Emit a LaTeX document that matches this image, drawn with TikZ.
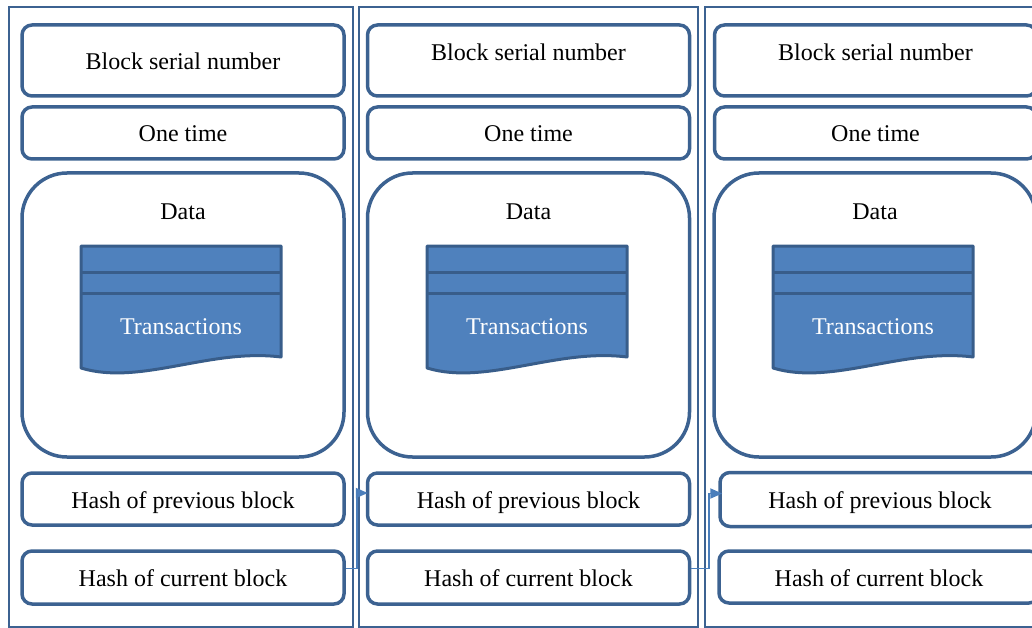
\documentclass[tikz,border=0pt]{standalone}
\usepackage{fontspec}
\setmainfont{Liberation Serif}
\usetikzlibrary{arrows.meta}
\definecolor{edge}{RGB}{60,98,145}
\definecolor{txf}{RGB}{79,129,189}
\definecolor{txd}{RGB}{56,93,138}
\definecolor{arrc}{RGB}{74,126,187}
\begin{document}
\begin{tikzpicture}[x=1pt,y=-1pt,font=\fontsize{24}{28}\selectfont,
  box/.style={draw=edge,line width=3.5pt,rounded corners=10pt,minimum width=322pt,inner sep=0pt,text height=20pt,text depth=2pt},
  framebox/.style={draw=edge,line width=2.5pt,inner sep=0pt},
  databox/.style={draw=edge,line width=3.5pt,rounded corners=45pt,minimum width=322pt,minimum height=284pt,inner sep=0pt},
  tx/.style={fill=txf,draw=txd,line width=3pt,line join=round},
  txline/.style={draw=txd,line width=3pt},
  txtext/.style={text=white},
  toplabel/.style={anchor=center},
  link/.style={draw=arrc,line width=1.8pt,-{Triangle[length=12pt,width=10pt]}}]
\useasboundingbox (0,0) rectangle (1032,628);
\clip (0,0) rectangle (1032,628);
% outer frames
\node[framebox,minimum width=344pt,minimum height=620pt] (f1) at (181,317) {};
\node[framebox,minimum width=339pt,minimum height=620pt] (f2) at (528.5,317) {};
\node[framebox,minimum width=335pt,minimum height=620pt] (f3) at (872.5,317) {};
% block 1
\node[box,minimum height=71pt] (s1) at (183,60.5) {Block serial number};
\node[box,minimum height=52pt] (o1) at (183,133) {One time};
\node[databox,label={[toplabel,yshift=-40.5pt]north:Data}] (d1) at (183,315) {};
\node[box,minimum height=52pt] (p1) at (183,499) {Hash of previous block};
\node[box,minimum height=53pt] (c1) at (183,577.5) {Hash of current block};
% block 2
\node[box,minimum height=71pt,label={[toplabel,yshift=-29.5pt]north:Block serial number}] (s2) at (528.5,60.5) {};
\node[box,minimum height=52pt] (o2) at (528.5,133) {One time};
\node[databox,label={[toplabel,yshift=-40.5pt]north:Data}] (d2) at (528.5,315) {};
\node[box,minimum height=52pt] (p2) at (528.5,499) {Hash of previous block};
\node[box,minimum height=53pt] (c2) at (528.5,577.5) {Hash of current block};
% block 3
\node[box,minimum height=71pt,label={[toplabel,yshift=-29.5pt]north:Block serial number}] (s3) at (875.5,60.5) {};
\node[box,minimum height=52pt] (o3) at (875.5,133) {One time};
\node[databox,label={[toplabel,yshift=-40.5pt]north:Data}] (d3) at (875,315) {};
\node[box,minimum height=54pt,minimum width=320pt] (p3) at (880,499.5) {Hash of previous block};
\node[box,minimum height=52pt,minimum width=320pt] (c3) at (879,577) {Hash of current block};
% transactions
\foreach \dx/\n in {0/1,346/2,692/3}{
  \begin{scope}[xshift=\dx pt]
    \draw[tx] (81,246) -- (281,246) -- (281,357)
      .. controls (210,348) and (140,386) .. (81,368) -- cycle;
    \draw[txline] (81,272) -- (281,272);
    \draw[txline] (81,293) -- (281,293);
    \node[txtext] (t\n) at (181,327) {Transactions};
  \end{scope}
}
% links
\draw[link,shorten >=-2pt] ([yshift=9pt]c1.east) -- ++(11,0) |- ([yshift=6pt]p2.west);
\draw[link,shorten >=-4pt] ([yshift=9pt]c2.east) -- ++(18,0) |- ([yshift=6pt]p3.west);
\end{tikzpicture}
\end{document}
